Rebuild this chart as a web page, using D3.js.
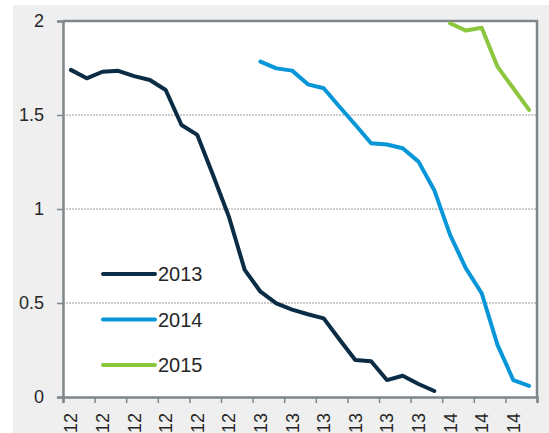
<!DOCTYPE html>
<html>
<head>
<meta charset="utf-8">
<script src="https://cdn.jsdelivr.net/npm/d3@7"></script>
<style>
  html, body { margin: 0; padding: 0; background: #fff; }
  svg { display: block; }
</style>
</head>
<body>
<div id="chart"></div>
<script>
// Monthly axis: 30 slots, label on every second slot.
const tickLabels = ["12", "12", "12", "12", "12", "12",
                    "13", "13", "13", "13", "13", "13",
                    "14", "14", "14"];

const seriesNames = ["2013", "2014", "2015"];
const seriesStart = [0, 12, 24]; // slot where each series begins
const colors = ["#0b2c45", "#0796d8", "#8cc63e"];

const values2013 = [1.74, 1.695, 1.73, 1.735, 1.707, 1.686, 1.633, 1.447, 1.394, 1.179,
                    0.959, 0.676, 0.56, 0.498, 0.465, 0.44, 0.418, 0.306, 0.197, 0.19,
                    0.09, 0.113, 0.069, 0.032];
const values2014 = [1.784, 1.748, 1.736, 1.663, 1.642, 1.544, 1.448, 1.35, 1.343, 1.323,
                    1.252, 1.10, 0.862, 0.684, 0.552, 0.277, 0.09, 0.059];
const values2015 = [1.988, 1.949, 1.964, 1.757, 1.642, 1.527];

const yTicks = [0, 0.5, 1, 1.5, 2];

const width = 549, height = 433;
const margin = {left: 63, top: 21, right: 12, bottom: 36};
const font = "'Liberation Sans', Arial, sans-serif";

const svg = d3.select("#chart").append("svg")
    .attr("width", width)
    .attr("height", height);

// grey frame behind the chart
svg.append("rect")
    .attr("x", 13).attr("y", 5)
    .attr("width", width - 13).attr("height", height - 5)
    .attr("fill", "#efefef");

const nSlots = tickLabels.length * 2;
const x = d3.scaleLinear().domain([0, nSlots]).range([margin.left, width - margin.right]);
const y = d3.scaleLinear().domain([0, 2]).range([height - margin.bottom, margin.top]);

svg.append("rect")
    .attr("x", x(0)).attr("y", y(2))
    .attr("width", x(nSlots) - x(0)).attr("height", y(0) - y(2))
    .attr("fill", "#fff");

// dotted gridlines
svg.append("g")
    .selectAll("line")
    .data(yTicks.filter(d => d > 0 && d < 2))
    .join("line")
    .attr("x1", x(0)).attr("x2", x(nSlots))
    .attr("y1", d => y(d)).attr("y2", d => y(d))
    .attr("stroke", "#9a9a9a")
    .attr("stroke-width", 1)
    .attr("stroke-dasharray", "2,1");

// plot border (top / right)
svg.append("path")
    .attr("d", `M${x(0)},${y(2)}H${x(nSlots)}V${y(0)}`)
    .attr("fill", "none")
    .attr("stroke", "#7f868a")
    .attr("stroke-width", 2.5);

// y axis
const yAxis = svg.append("g")
    .attr("transform", `translate(${x(0)},0)`)
    .call(d3.axisLeft(y).tickValues(yTicks).tickSize(6).tickPadding(13)
        .tickFormat(d => d === 0 ? "0" : d3.format("~g")(d)));
yAxis.select(".domain").attr("stroke", "#7f868a").attr("stroke-width", 2.5);
yAxis.selectAll(".tick line").attr("stroke", "#7f868a").attr("stroke-width", 1.5);
yAxis.selectAll("text")
    .attr("font-family", font).attr("font-size", 18).attr("fill", "#262626");

// x axis: ticks at every second slot boundary
const xAxis = svg.append("g")
    .attr("transform", `translate(0,${y(0)})`)
    .call(d3.axisBottom(x).tickValues(d3.range(0, nSlots + 1, 2)).tickSize(6).tickFormat(""));
xAxis.select(".domain").attr("stroke", "#7f868a").attr("stroke-width", 2.5);
xAxis.selectAll(".tick line").attr("stroke", "#7f868a").attr("stroke-width", 1.5);

svg.append("g")
    .selectAll("text")
    .data(tickLabels)
    .join("text")
    .attr("transform", (d, i) => `translate(${x(i * 2 + 0.5)},${y(0) + 16}) rotate(-90)`)
    .attr("text-anchor", "end")
    .attr("dy", "0.36em")
    .attr("font-family", font)
    .attr("font-size", 18)
    .attr("fill", "#262626")
    .text(d => d);

// series lines
const allSeries = [values2013, values2014, values2015];
const line = d3.line()
    .x(d => x(d.slot + 0.5))
    .y(d => y(d.v));

svg.append("g")
    .selectAll("path")
    .data(allSeries.map((vals, k) => vals.map((v, i) => ({slot: seriesStart[k] + i, v}))))
    .join("path")
    .attr("d", line)
    .attr("fill", "none")
    .attr("stroke", (d, k) => colors[k])
    .attr("stroke-width", 4)
    .attr("stroke-linejoin", "round")
    .attr("stroke-linecap", "round");

// legend
const legend = svg.append("g")
    .selectAll("g")
    .data(seriesNames)
    .join("g")
    .attr("transform", (d, i) => `translate(103,${274 + i * 45.5})`);

legend.append("line")
    .attr("x1", 0).attr("x2", 52)
    .attr("stroke", (d, i) => colors[i])
    .attr("stroke-width", 4)
    .attr("stroke-linecap", "round");

legend.append("text")
    .attr("x", 55)
    .attr("dy", "0.36em")
    .attr("font-family", font)
    .attr("font-size", 20)
    .attr("fill", "#262626")
    .text(d => d);
</script>
</body>
</html>
